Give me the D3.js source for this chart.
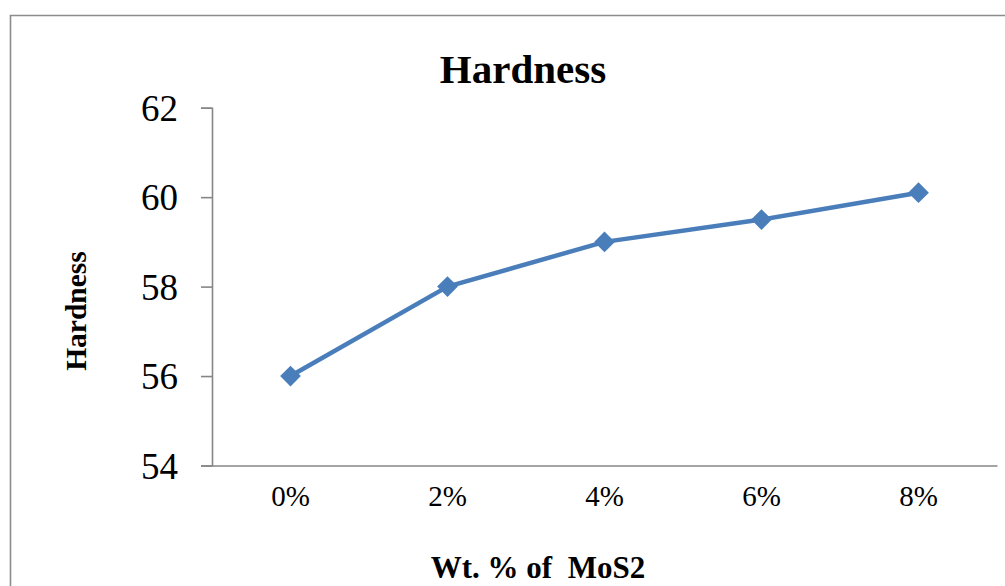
<!DOCTYPE html>
<html>
<head>
<meta charset="utf-8">
<script src="https://cdn.jsdelivr.net/npm/d3@7"></script>
<style>
  html, body { margin: 0; padding: 0; background: #fff; }
  svg { display: block; }
  text { font-family: "Liberation Serif", "Times New Roman", serif; fill: #000; }
</style>
</head>
<body>
<svg id="chart" width="1005" height="586"></svg>
<script>
// Hardness vs. MoS2 weight fraction
const categories = ["0%", "2%", "4%", "6%", "8%"];
const hardness = [56, 58, 59, 59.5, 60.1];
const yTicks = [54, 56, 58, 60, 62];

const W = 1005, H = 586;
const plot = { left: 212, right: 997, top: 107.7, bottom: 465.5 };
const serif = "Liberation Serif, Times New Roman, serif";

const svg = d3.select("#chart");

// outer chart frame
svg.append("path")
  .attr("d", `M10.5,${H + 2} V15.5 H${W + 2}`)
  .attr("fill", "none")
  .attr("stroke", "#8c8c8c")
  .attr("stroke-width", 1.6);

const x = d3.scaleBand().domain(categories).range([plot.left, plot.right]);
const y = d3.scaleLinear().domain([54, 62]).range([plot.bottom, plot.top]);

// y axis
const yAxis = svg.append("g")
  .attr("transform", `translate(${plot.left},0)`)
  .call(d3.axisLeft(y).tickValues(yTicks).tickSize(11).tickPadding(23).tickFormat(d3.format("d")))
  .attr("font-family", serif)
  .attr("font-size", 37);
yAxis.select(".domain").attr("stroke", "#868686").attr("stroke-width", 1.6);
yAxis.selectAll(".tick line").attr("stroke", "#868686").attr("stroke-width", 1.6);
yAxis.selectAll(".tick text")
  .attr("fill", "#000")
  .attr("dy", "0.34em");

// x axis
const xAxis = svg.append("g")
  .attr("transform", `translate(0,${plot.bottom})`)
  .call(d3.axisBottom(x).tickSize(0).tickPadding(40).tickSizeOuter(0))
  .attr("font-family", serif)
  .attr("font-size", 29);
xAxis.select(".domain").attr("stroke", "#868686").attr("stroke-width", 1.6);
xAxis.selectAll(".tick text")
  .attr("fill", "#000")
  .attr("dy", "0");

const cx = d => x(d) + x.bandwidth() / 2;
const pts = categories.map((c, i) => [cx(c), y(hardness[i])]);

// series line
svg.append("path")
  .datum(pts)
  .attr("d", d3.line())
  .attr("fill", "none")
  .attr("stroke", "#4a7ebb")
  .attr("stroke-width", 4.5)
  .attr("stroke-linejoin", "round");

// diamond markers
svg.selectAll(".marker")
  .data(pts)
  .join("path")
  .attr("class", "marker")
  .attr("d", d3.symbol(d3.symbolSquare, 215))
  .attr("transform", d => `translate(${d[0]},${d[1]}) rotate(45)`)
  .attr("fill", "#4a7ebb");

// titles
svg.append("text")
  .attr("x", 523).attr("y", 83)
  .attr("text-anchor", "middle")
  .style("font-size", "41px").style("font-weight", "bold")
  .text("Hardness");

svg.append("text")
  .attr("transform", "translate(86,311) rotate(-90)")
  .attr("text-anchor", "middle")
  .style("font-size", "29.5px").style("font-weight", "bold")
  .text("Hardness");

svg.append("text")
  .attr("x", 538).attr("y", 578)
  .attr("text-anchor", "middle")
  .style("font-size", "31px").style("font-weight", "bold")
  .style("white-space", "pre")
  .attr("xml:space", "preserve")
  .text("Wt. % of  MoS2");
</script>
</body>
</html>
